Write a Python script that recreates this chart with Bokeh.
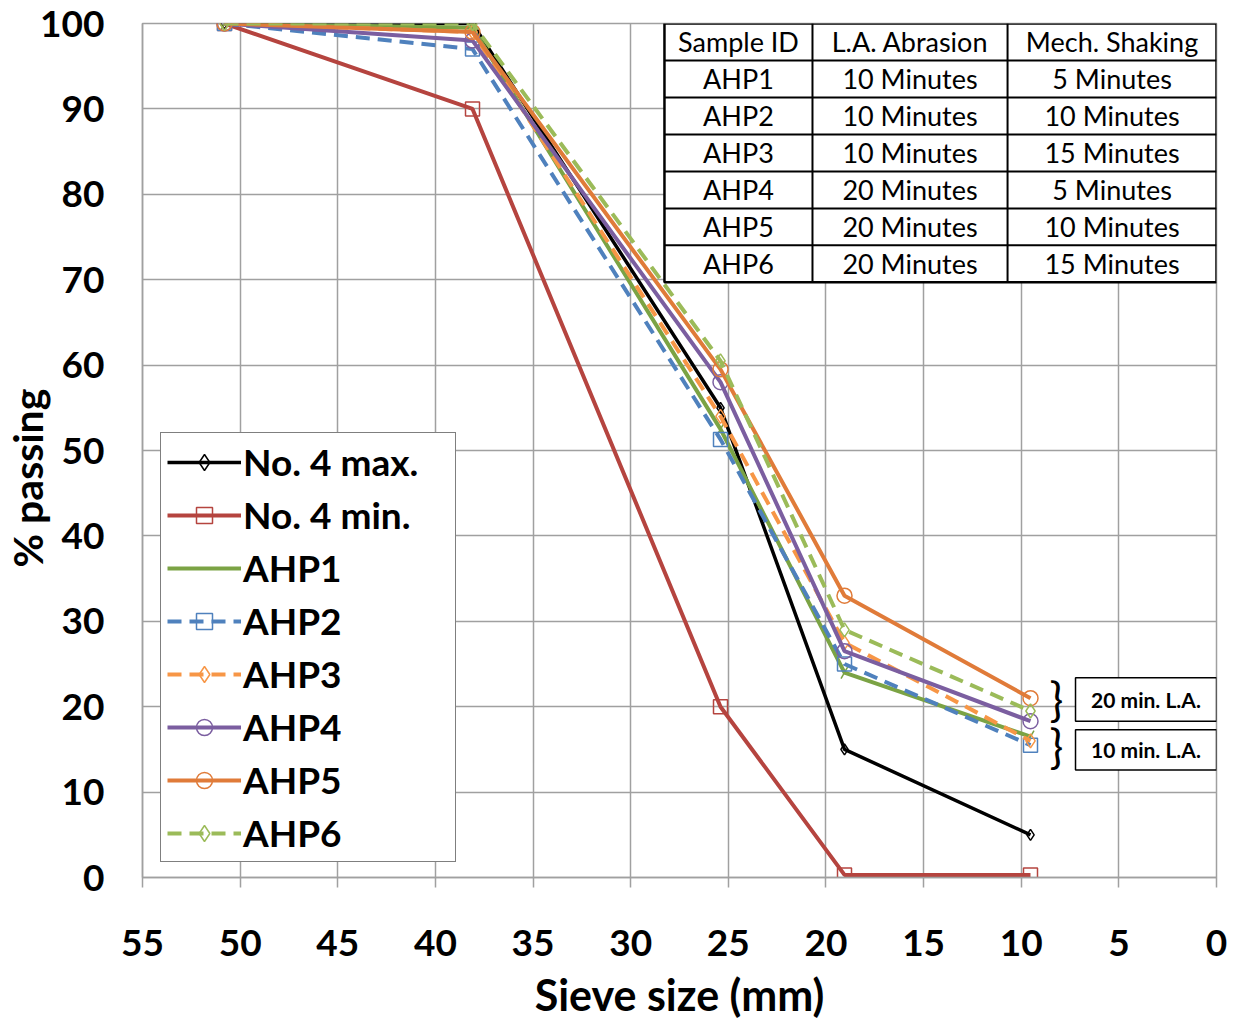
from bokeh.plotting import figure
from bokeh.models import Range1d, FixedTicker, Legend, LegendItem, Title
from bokeh.core.properties import value
from bokeh.embed import file_html
from bokeh.resources import INLINE
import math

# ---------------- data ----------------
sieve_mm = [50.8, 38.1, 25.4, 19.05, 9.525]
no4_max = [100, 100, 55, 15, 5]
no4_min = [100, 90, 20, 0.3, 0.3]
ahp1 = [100, 99.5, 52.5, 24, 16.5]
ahp2 = [100, 97, 51.3, 25, 15.5]
ahp3 = [100, 99, 54, 27.5, 16]
ahp4 = [100, 98, 58, 26.5, 18.3]
ahp5 = [100, 99, 59.5, 33, 21]
ahp6 = [100, 100, 60.5, 29, 19.5]

x_ticks = [55, 50, 45, 40, 35, 30, 25, 20, 15, 10, 5, 0]
y_ticks = [0, 10, 20, 30, 40, 50, 60, 70, 80, 90, 100]

table_header = ["Sample ID", "L.A. Abrasion", "Mech. Shaking"]
table_ids = ["AHP1", "AHP2", "AHP3", "AHP4", "AHP5", "AHP6"]
table_la = ["10 Minutes", "10 Minutes", "10 Minutes", "20 Minutes", "20 Minutes", "20 Minutes"]
table_mech = ["5 Minutes", "10 Minutes", "15 Minutes", "5 Minutes", "10 Minutes", "15 Minutes"]

note_labels = ["20 min. L.A.", "10 min. L.A."]
y_title = "% passing"
x_title = "Sieve size (mm)"

FONT = "Lato"

# ---------------- figure ----------------
p = figure(frame_width=1074, frame_height=854,
           x_range=Range1d(55, 0), y_range=Range1d(0, 100),
           output_backend="svg", toolbar_location=None,
           min_border_left=142, min_border_top=23, min_border_right=15, min_border_bottom=138)
p.outline_line_color = "#A0A0A0"
p.outline_line_width = 1.5
p.background_fill_color = "white"
p.border_fill_color = "white"

for g in (p.xgrid, p.ygrid):
    g.grid_line_color = "#A0A0A0"
    g.grid_line_width = 1.5
p.xgrid.ticker = FixedTicker(ticks=x_ticks)
p.ygrid.ticker = FixedTicker(ticks=y_ticks)

xa = p.xaxis[0]
xa.ticker = FixedTicker(ticks=x_ticks)
xa.axis_line_color = "#A0A0A0"
xa.axis_line_width = 1.5
xa.major_tick_line_color = "#A0A0A0"
xa.major_tick_line_width = 1.5
xa.major_tick_in = 0
xa.major_tick_out = 10
xa.minor_tick_line_color = None
xa.major_label_standoff = 42
xa.major_label_text_font = FONT
xa.major_label_text_font_style = "bold"
xa.major_label_text_font_size = "37px"
xa.major_label_text_color = "black"
xa.axis_label = x_title
xa.axis_label_text_font = FONT
xa.axis_label_text_font_style = "bold"
xa.axis_label_text_font_size = "43px"
xa.axis_label_text_color = "black"
xa.axis_label_standoff = 10

ya = p.yaxis[0]
ya.ticker = FixedTicker(ticks=y_ticks)
ya.axis_line_color = "#A0A0A0"
ya.axis_line_width = 1.5
ya.major_tick_line_color = None
ya.major_tick_in = 0
ya.major_tick_out = 0
ya.minor_tick_line_color = None
ya.major_label_standoff = 38
ya.major_label_text_font = FONT
ya.major_label_text_font_style = "bold"
ya.major_label_text_font_size = "37px"
ya.major_label_text_color = "black"

# y-axis title, placed a little below the centre as in the original
ytitle = Title(text=y_title, align="left", offset=310, standoff=-28,
               text_font=FONT, text_font_style="bold", text_font_size="41px",
               text_color="black")
p.add_layout(ytitle, "left")

# ---------------- series ----------------
series = [
    ("No. 4 max.", no4_max, "#000000", "solid", 3.5, "diamond", 11),
    ("No. 4 min.", no4_min, "#B5443F", "solid", 4, "square", 14),
    ("AHP1", ahp1, "#7BA344", "solid", 4, "dash", 14),
    ("AHP2", ahp2, "#4F81BD", "14 8", 4, "square", 14),
    ("AHP3", ahp3, "#F79646", "14 8", 4, "diamond", 14),
    ("AHP4", ahp4, "#7B5EA0", "solid", 4, "circle", 15),
    ("AHP5", ahp5, "#E07B39", "solid", 4, "circle", 15),
    ("AHP6", ahp6, "#9BBB59", "14 8", 4, "diamond", 14),
]

items = []
for name, ys, color, dash, lw, marker, size in series:
    r1 = p.line(sieve_mm, ys, line_color=color, line_width=lw, line_dash=dash)
    angle = math.radians(60) if marker == "dash" else 0
    r2 = p.scatter(sieve_mm, ys, marker=marker, size=size, line_color=color,
                   fill_alpha=0, line_width=1.5, angle=angle)
    items.append(LegendItem(label=name, renderers=[r1, r2]))

legend = Legend(items=items, location=(18, 15))
legend.label_text_font = FONT
legend.label_text_font_style = "bold"
legend.label_text_font_size = "37px"
legend.label_text_color = "black"
legend.label_height = 40
legend.glyph_height = 40
legend.glyph_width = 74
legend.label_standoff = 2
legend.spacing = 8
legend.padding = 6
legend.margin = 0
legend.label_width = 206
legend.border_line_color = "black"
legend.border_line_width = 1.5
legend.background_fill_color = "white"
legend.background_fill_alpha = 1
p.add_layout(legend)

# ---------------- table (data-space layout) ----------------
col_edges = [28.27, 20.69, 10.7, 0.0]
row_top = 100.0
row_h = 4.33
rows = [table_header] + [[a, b, c] for a, b, c in zip(table_ids, table_la, table_mech)]
n_rows = len(rows)
table_bottom = row_top - n_rows * row_h
p.quad(left=[col_edges[0]], right=[col_edges[-1]], top=[row_top], bottom=[table_bottom],
       fill_color="white", line_color="black", line_width=2.5)
for i in range(1, n_rows):
    yy = row_top - i * row_h
    p.line([col_edges[0], col_edges[-1]], [yy, yy], line_color="black", line_width=2)
for c in range(1, 3):
    p.line([col_edges[c], col_edges[c]], [row_top, table_bottom], line_color="black", line_width=2)

tx, ty, tt = [], [], []
for i, row in enumerate(rows):
    for c, txt in enumerate(row):
        tx.append((col_edges[c] + col_edges[c + 1]) / 2)
        ty.append(row_top - (i + 0.5) * row_h)
        tt.append(txt)
p.text(x=tx, y=ty, text=tt, text_font=value(FONT), text_font_size="27px",
       text_align="center", text_baseline="middle", text_color="black")

# ---------------- annotation boxes ----------------
box_left, box_right = 7.22, 0.0
box_tops = [23.4, 17.3]
box_bottoms = [18.3, 12.6]
p.quad(left=[box_left] * 2, right=[box_right] * 2, top=box_tops, bottom=box_bottoms,
       fill_color="white", line_color="black", line_width=1.5)
p.text(x=[(box_left + box_right) / 2] * 2,
       y=[(t + b) / 2 for t, b in zip(box_tops, box_bottoms)],
       text=note_labels, text_font=value(FONT), text_font_style="bold",
       text_font_size="21px", text_align="center", text_baseline="middle", text_color="black")
p.text(x=[8.2, 8.2], y=[21.0, 15.4], text=["}", "}"], text_font=value(FONT),
       text_font_size="46px", text_align="center", text_baseline="middle", text_color="black")

open("out.html", "w").write(file_html(p, INLINE))
